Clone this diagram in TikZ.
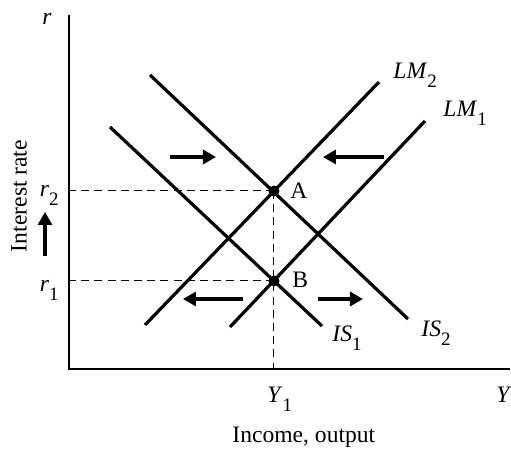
\documentclass[tikz,border=0pt]{standalone}
\usepackage{fontspec}
\setmainfont{Liberation Serif}
\usetikzlibrary{arrows.meta}

\newcommand{\lowsub}[1]{\raisebox{-4.5pt}{\fontsize{9.5}{10}\selectfont #1}}

\begin{document}
\begin{tikzpicture}[
  x=0.5pt,
  y=-0.5pt,
  font=\fontsize{11.8}{14}\selectfont,
  axis/.style={line width=.8pt},
  curve/.style={line width=1.6pt},
  guide/.style={line width=.5pt,dash pattern=on 4pt off 2.6pt},
  shiftarrow/.style={line width=1.6pt,-{Triangle[length=6.5pt,width=7pt]}},
  dot/.style={circle,fill=black,inner sep=0pt,minimum size=5.5pt},
  lbl/.style={anchor=base west,inner sep=0pt}
]
\useasboundingbox (0,0) rectangle (511,449);

% axes
\coordinate (origin) at (69,369);
\coordinate (ytop) at (69,15);
\coordinate (xend) at (510,369);
\draw[axis] (ytop) -- (origin) -- (xend);

% equilibria
\node[dot] (A) at (274,191) {};
\node[dot] (B) at (274,281) {};
\draw[guide] (A.center) -- (A.center -| origin);
\draw[guide] (B.center) -- (B.center -| origin);
\draw[guide] (A.center) -- (A.center |- origin);

% LM and IS curves
\coordinate (lm2lo) at (145,325);
\coordinate (lm2hi) at (379,82);
\coordinate (lm1lo) at (230,327);
\coordinate (lm1hi) at (425,121);
\coordinate (is1hi) at (110,127);
\coordinate (is1lo) at (322,326);
\coordinate (is2hi) at (150,75);
\coordinate (is2lo) at (408,319);
\draw[curve] (lm2lo) -- (lm2hi);
\draw[curve] (lm1lo) -- (lm1hi);
\draw[curve] (is1hi) -- (is1lo);
\draw[curve] (is2hi) -- (is2lo);

% shift arrows
\coordinate (tl0) at (170,157); \coordinate (tl1) at (216,157);
\coordinate (tr0) at (384,157); \coordinate (tr1) at (323,157);
\coordinate (bl0) at (243,299); \coordinate (bl1) at (183,299);
\coordinate (br0) at (318,299); \coordinate (br1) at (363,299);
\coordinate (up0) at (45,256);  \coordinate (up1) at (45,212);
\draw[shiftarrow] (tl0) -- (tl1);
\draw[shiftarrow] (tr0) -- (tr1);
\draw[shiftarrow] (bl0) -- (bl1);
\draw[shiftarrow] (br0) -- (br1);
\draw[shiftarrow] (up0) -- (up1);

% labels
\node[lbl] (rlbl) at (42,25) {\textit{r}};
\node[lbl,anchor=base east] (r2lbl) at (59,197) {\textit{r}\lowsub{2}};
\node[lbl,anchor=base east] (r1lbl) at (59,292) {\textit{r}\lowsub{1}};
\node[lbl] (Albl) at (290,199) {A};
\node[lbl] (Blbl) at (292,288) {B};
\node[lbl] (lm2lbl) at (393,79) {\textit{LM}\lowsub{2}};
\node[lbl] (lm1lbl) at (443,117) {\textit{LM}\lowsub{1}};
\node[lbl] (is1lbl) at (332,342) {\textit{IS}\lowsub{1}};
\node[lbl] (is2lbl) at (421,337) {\textit{IS}\lowsub{2}};
\node[lbl] (y1lbl) at (267,403) {\textit{Y}\lowsub{1}};
\node[lbl] (ylbl) at (496,403) {\textit{Y}};
\node[lbl] (xtitle) at (232,443) {Income, output};
\node[rotate=90,inner sep=0pt] (ytitle) at (19,196) {Interest rate};
\end{tikzpicture}
\end{document}
